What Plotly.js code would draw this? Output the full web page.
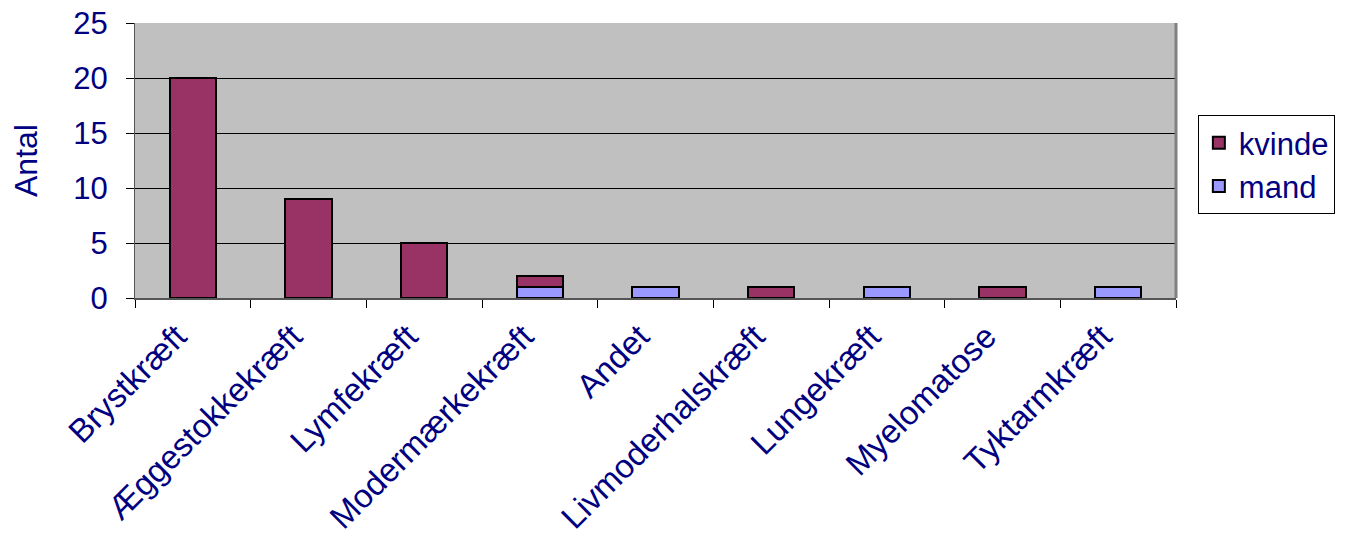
<!DOCTYPE html>
<html><head><meta charset="utf-8">
<script src="https://cdn.plot.ly/plotly-3.0.1.min.js"></script>
<style>body{margin:0;background:#fff}#c{width:1347px;height:538px}</style>
</head><body><div id="c"></div>
<script>
const categories = ["Brystkræft","Æggestokkekræft","Lymfekræft","Modermærkekræft","Andet","Livmoderhalskræft","Lungekræft","Myelomatose","Tyktarmkræft"];
const kvinde = [20, 9, 5, 1, null, 1, null, 1, null];
const mand = [null, null, null, 1, 1, null, 1, null, 1];
const yTicks = [0, 5, 10, 15, 20, 25];

const navy = '#000080';
const fontFam = 'Liberation Sans, Arial, sans-serif';
const traces = [
  {type:'bar', name:'mand', x:categories, y:mand, marker:{color:'#9999FF', line:{color:'#000', width:2}}},
  {type:'bar', name:'kvinde', x:categories, y:kvinde, marker:{color:'#993366', line:{color:'#000', width:2}}}
];
const layout = {
  width:1347, height:538,
  margin:{l:135, r:169, t:23, b:240},
  barmode:'stack', bargap:0.6,
  paper_bgcolor:'#fff', plot_bgcolor:'#C0C0C0',
  font:{family:fontFam, color:navy, size:31},
  xaxis:{type:'category', tickangle:-45, ticks:'outside', ticklen:8, tickcolor:'#000', tickson:'boundaries',
    showline:true, linecolor:'#555', linewidth:2, mirror:false, tickfont:{size:33, color:navy}, showgrid:false, automargin:false,
    ticklabelshift:-16, ticklabelstandoff:4},
  yaxis:{range:[0,25], tickvals:yTicks, ticks:'outside', ticklen:8, tickcolor:'#000', showline:true, linecolor:'#555', linewidth:1,
    gridcolor:'#000', gridwidth:1, tickfont:{size:31, color:navy}, zeroline:false, ticklabelstandoff:12,
    title:{text:'Antal', font:{size:32, color:navy}, standoff:26}, automargin:false},
  legend:{x:1.021, y:0.665, xanchor:'left', yanchor:'top', traceorder:'reversed', bgcolor:'#fff', bordercolor:'#000', borderwidth:1,
    font:{size:31, color:navy}, itemsizing:'constant', itemwidth:30},
  shapes:[
    {type:'line', xref:'paper', yref:'paper', x0:1, x1:1, y0:0, y1:1, line:{color:'#808080', width:3}}
  ]
};
Plotly.newPlot('c', traces, layout, {displayModeBar:false, staticPlot:true});
</script></body></html>
